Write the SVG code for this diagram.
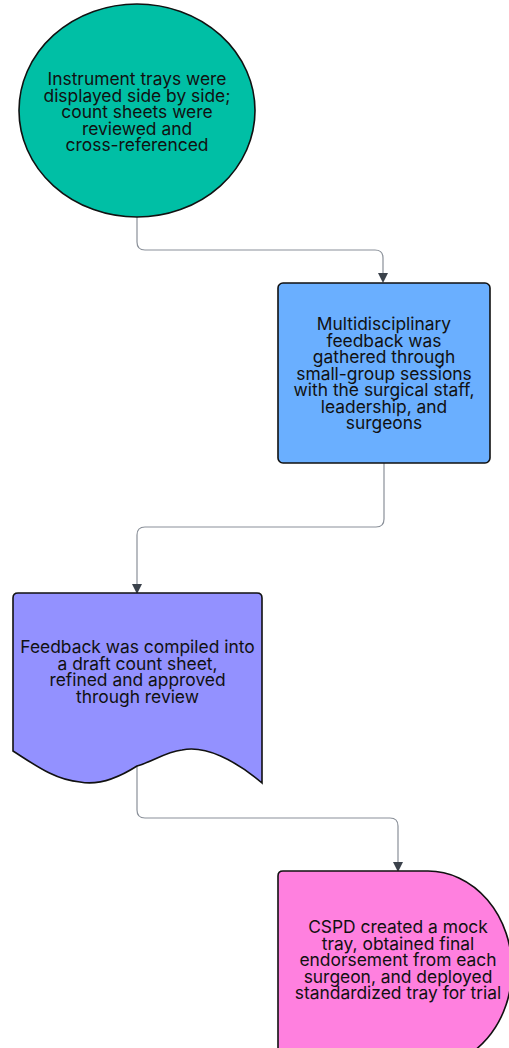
<svg xmlns="http://www.w3.org/2000/svg" width="509" height="1048" viewBox="0 0 509 1048">
<style>
.node{stroke:#111;stroke-width:1.6}
.lbl{font-family:Inter,"Liberation Sans",sans-serif;font-size:17.4px;fill:#111;text-anchor:middle}
.conn{fill:none;stroke:#8a9099;stroke-width:1.2}
</style>
<defs>
<marker id="arr" markerWidth="10" markerHeight="14" refX="8" refY="5" orient="auto" markerUnits="userSpaceOnUse" viewBox="0 0 10 10">
<path d="M0,0 L10,5 L0,10 Z" fill="#3b424b"/>
</marker>
</defs>
<g id="connectors">
<path class="conn" d="M137,217 V242 Q137,250 145,250 H375 Q383,250 383,258 V281" marker-end="url(#arr)"/>
<path class="conn" d="M384,463 V519 Q384,527 376,527 H145 Q137,527 137,535 V592" marker-end="url(#arr)"/>
<path class="conn" d="M137,766 V810 Q137,818 145,818 H390 Q398,818 398,826 V870" marker-end="url(#arr)"/>
</g>
<g id="n1">
<ellipse class="node" cx="137" cy="110.5" rx="118" ry="106.5" fill="#00BFA5"/>
<text class="lbl"><tspan x="137" y="85">Instrument trays were</tspan><tspan x="137" y="101.5">displayed side by side;</tspan><tspan x="137" y="118">count sheets were</tspan><tspan x="137" y="134.5">reviewed and</tspan><tspan x="137" y="151">cross-referenced</tspan></text>
</g>
<g id="n2">
<rect class="node" x="278" y="283" width="212" height="180" rx="5" fill="#6AAFFF"/>
<text class="lbl"><tspan x="384" y="330">Multidisciplinary</tspan><tspan x="384" y="346.5">feedback was</tspan><tspan x="384" y="363">gathered through</tspan><tspan x="384" y="379.5">small-group sessions</tspan><tspan x="384" y="396">with the surgical staff,</tspan><tspan x="384" y="412.5">leadership, and</tspan><tspan x="384" y="429">surgeons</tspan></text>
</g>
<g id="n3">
<path class="node" d="M13,751 V598 Q13,593 18,593 H257 Q262,593 262,598 V783 C235,760 205,745 182,750 C165,752 152,762 137,766 C115,780 95,785 80,782 C55,780 35,765 13,751 Z" fill="#9391FF"/>
<text class="lbl"><tspan x="137.5" y="653">Feedback was compiled into</tspan><tspan x="137.5" y="669.5">a draft count sheet,</tspan><tspan x="137.5" y="686">refined and approved</tspan><tspan x="137.5" y="702.5">through review</tspan></text>
</g>
<g id="n4">
<path class="node" d="M283,871 H428 A84,98 0 0 1 428,1067 H283 Q278,1067 278,1062 V876 Q278,871 283,871 Z" fill="#FF80DF"/>
<text class="lbl"><tspan x="398" y="933">CSPD created a mock</tspan><tspan x="398" y="949.5">tray, obtained final</tspan><tspan x="398" y="966">endorsement from each</tspan><tspan x="398" y="982.5">surgeon, and deployed</tspan><tspan x="398" y="999">standardized tray for trial</tspan></text>
</g>
</svg>
